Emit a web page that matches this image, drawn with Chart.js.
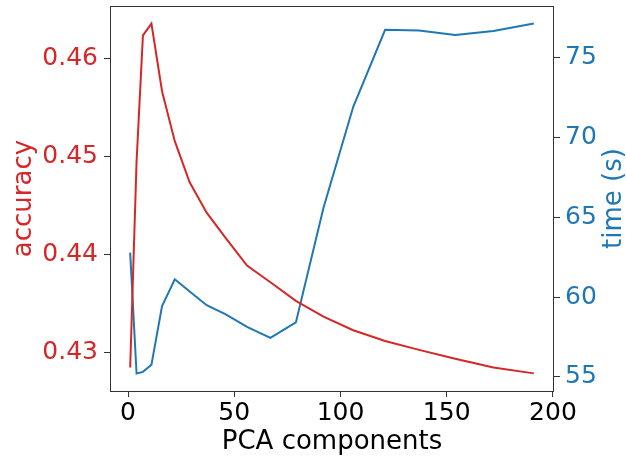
<!DOCTYPE html>
<html>
<head>
<meta charset="utf-8">
<script src="https://cdn.jsdelivr.net/npm/chart.js@4"></script>
<style>
  html, body { margin: 0; padding: 0; background: #fff; }
  #wrap { width: 626px; height: 459px; }
</style>
</head>
<body>
<div id="wrap"><canvas id="pca"></canvas></div>
<script>
var components = [1, 4, 7, 11, 16, 22, 29, 37, 46, 56, 67, 79, 92, 106, 121, 137, 154, 172, 191];
var accuracy = [0.4285, 0.4495, 0.4624, 0.4636, 0.4567, 0.4516, 0.4474, 0.4443, 0.4417, 0.4389,
                0.4372, 0.4353, 0.4337, 0.4323, 0.4312, 0.4303, 0.4294, 0.4285, 0.4279];
var timeSec = [62.79, 55.22, 55.32, 55.76, 59.44, 61.12, 60.35, 59.5, 58.92, 58.14,
               57.45, 58.42, 65.61, 71.93, 76.76, 76.71, 76.44, 76.69, 77.15];
var xTicks = [0, 50, 100, 150, 200];
var accTicks = [0.43, 0.44, 0.45, 0.46];
var timeTicks = [55, 60, 65, 70, 75];

var RED = "#d62728";
var BLUE = "#1f77b4";
var FONT = "'DejaVu Sans', sans-serif";
var FS = 25;      // tick labels
var TS = 26;      // axis titles

function pts(ys) {
    return components.map(function(c, i) { return { x: c, y: ys[i] }; });
}
function fixTicks(list) {
    return function(scale) {
        scale.ticks = list.map(function(v) { return { value: v }; });
    };
}
// fixed axis box sizes, no extra room asked for by the labels
function fixSize(w, h) {
    return function(s) {
        if (w) s.width = w;
        if (h) s.height = h;
        s.paddingTop = 0; s.paddingBottom = 0;
        s.paddingLeft = 0; s.paddingRight = 0;
    };
}

// box around the plot plus the right-hand title (reads bottom to top)
var frame = {
    id: "frame",
    afterDraw: function(chart) {
        var a = chart.chartArea, ctx = chart.ctx;
        ctx.save();
        ctx.strokeStyle = "#333";
        ctx.lineWidth = 1;
        ctx.strokeRect(a.left + 0.5, a.top + 0.5, a.right - a.left - 1, a.bottom - a.top);
        ctx.translate(621, (a.top + a.bottom) / 2);
        ctx.rotate(-Math.PI / 2);
        ctx.fillStyle = BLUE;
        ctx.font = TS + "px " + FONT;
        ctx.textAlign = "center";
        ctx.textBaseline = "alphabetic";
        ctx.fillText("time (s)", 0, 0);
        ctx.restore();
    }
};

var tickGrid = { drawOnChartArea: false, tickLength: 6, tickColor: "#333", color: "#333" };

new Chart(document.getElementById("pca"), {
    type: "line",
    data: {
        datasets: [
            {
                label: "accuracy",
                data: pts(accuracy),
                yAxisID: "y",
                borderColor: RED,
                borderWidth: 2,
                pointRadius: 0,
                tension: 0,
                fill: false
            },
            {
                label: "time (s)",
                data: pts(timeSec),
                yAxisID: "y1",
                borderColor: BLUE,
                borderWidth: 2,
                pointRadius: 0,
                tension: 0,
                fill: false
            }
        ]
    },
    options: {
        responsive: true,
        maintainAspectRatio: false,
        animation: false,
        layout: { padding: { top: 6, left: 0, right: 0, bottom: 0 } },
        plugins: { legend: { display: false }, tooltip: { enabled: false } },
        scales: {
            x: {
                type: "linear",
                min: -8.5,
                max: 200.5,
                afterBuildTicks: fixTicks(xTicks),
                afterFit: fixSize(0, 68),
                grid: tickGrid,
                border: { display: false },
                ticks: { color: "#000", padding: 1, maxRotation: 0, font: { family: FONT, size: FS } },
                title: { display: true, text: "PCA components", color: "#000",
                         padding: { top: 0, bottom: 1 }, font: { family: FONT, size: TS } }
            },
            y: {
                position: "left",
                min: 0.4261,
                max: 0.4654,
                afterBuildTicks: fixTicks(accTicks),
                afterFit: fixSize(110, 0),
                grid: tickGrid,
                border: { display: false },
                ticks: { color: RED, padding: 6, font: { family: FONT, size: FS },
                         callback: function(v) { return v.toFixed(2); } },
                title: { display: true, text: "accuracy", color: RED,
                         padding: { top: 9, bottom: 0 }, font: { family: FONT, size: TS } }
            },
            y1: {
                position: "right",
                min: 54.12,
                max: 78.25,
                afterBuildTicks: fixTicks(timeTicks),
                afterFit: fixSize(72, 0),
                grid: tickGrid,
                border: { display: false },
                ticks: { color: BLUE, padding: 5, font: { family: FONT, size: FS } }
            }
        }
    },
    plugins: [frame]
});
</script>
</body>
</html>
